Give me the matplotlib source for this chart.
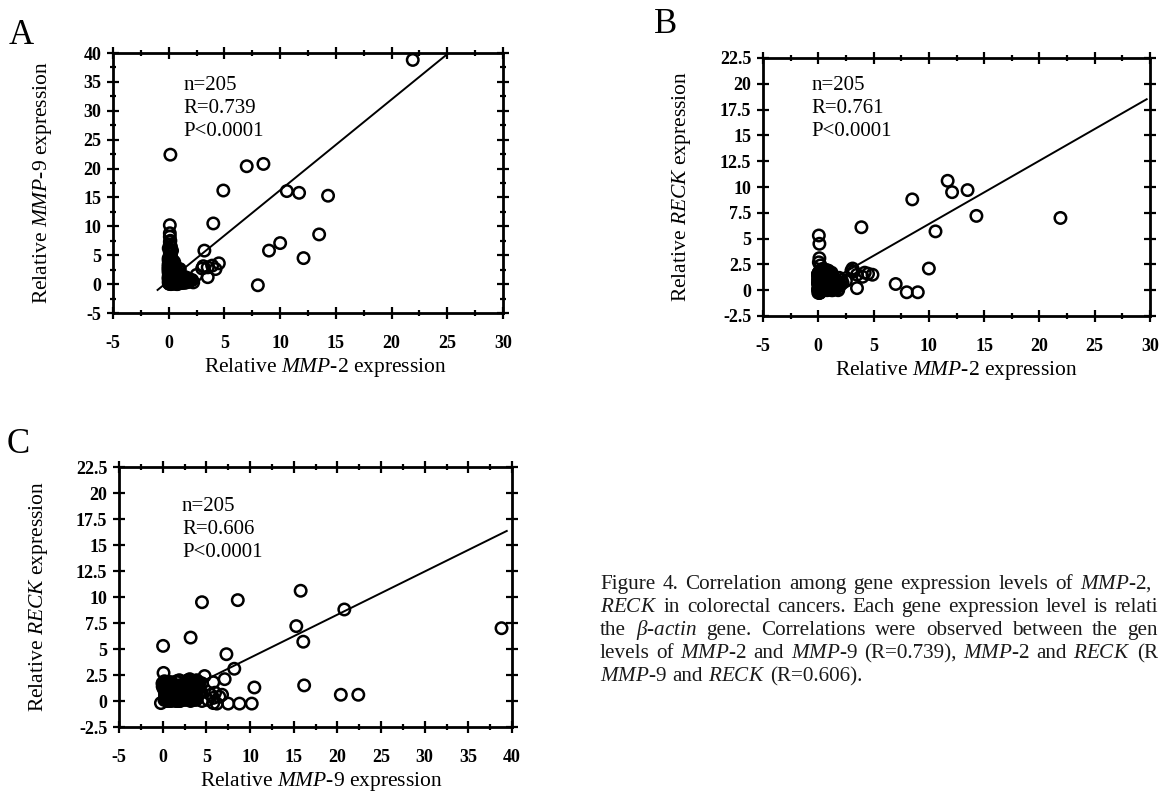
import numpy as np
import matplotlib
matplotlib.use("Agg")
import matplotlib.pyplot as plt
from matplotlib.ticker import MultipleLocator

plt.rcParams['font.family'] = ['Liberation Serif', 'DejaVu Serif']
plt.rcParams['mathtext.fontset'] = 'custom'
plt.rcParams['mathtext.rm'] = 'Liberation Serif'
plt.rcParams['mathtext.it'] = 'Liberation Serif:italic'
plt.rcParams['mathtext.bf'] = 'Liberation Serif:bold'
plt.rcParams['axes.unicode_minus'] = False

# samples that stand apart from the main cluster
mmp2_out = [21.9, 0.15, 7.0, 8.5, 4.9, 10.6, 11.7, 14.3, 4.0, 13.5,
            10.0, 9.0, 12.1, 8.0, 3.2, 3.9, 0.1, 0.05, 0.1, 0.05,
            0.1, 0.1, 0.15, 4.5, 3.0, 3.5, 3.1, 0.2, 0.1, 0.2,
            0.0, 0.1, 0.3, 0.1, 0.2, 2.1, 3.5, 4.2, 2.5]
mmp9_out = [38.8, 22.4, 20.4, 20.8, 16.2, 16.1, 15.8, 15.3, 10.5, 8.6,
            7.1, 5.8, 4.5, -0.2, 5.8, 3.2, 7.3, 0.05, 8.2, 0.1,
            10.2, 8.8, 7.5, 3.6, 2.7, 1.2, 3.1, 4.8, 6.8, 6.5,
            6.2, 6.0, 5.8, 5.5, 5.2, 0.7, 2.9, 2.6, 1.6]
reck_out = [7.0, 0.6, 0.6, 8.8, 1.5, 5.7, 10.6, 7.2, 1.3, 9.7,
            2.1, -0.2, 9.5, -0.2, 1.8, 6.1, 4.5, 5.3, 3.1, 2.7,
            -0.25, -0.25, -0.25, 1.6, 1.9, 0.2, 2.1, 2.4, 0.6, 0.4,
            -0.25, 0.8, 0.3, 0.6, 0.1, 1.0, 1.5, 1.7, 0.9]

# dense cluster near the origin
mmp2_blob = [0.0, 0.1, 0.2, 0.3, 0.1, 0.4, 0.5, 0.0, 0.2, 0.6,
             0.7, 0.3, 0.1, 0.8, 0.2, 0.9, 0.4, 0.0, 1.0, 0.5,
             0.1, 1.1, 0.3, 0.6, 0.2, 1.2, 0.0, 0.7, 0.4, 1.3,
             0.1, 0.5, 0.8, 0.2, 1.4, 0.3, 0.0, 0.9, 0.6, 1.5,
             0.2, 0.1, 1.0, 0.4, 1.6, 0.0, 0.7, 0.3, 1.1, 1.8,
             0.5, 0.2, 0.1, 1.2, 0.8, 2.0, 0.0, 0.6, 0.3, 0.9,
             1.3, 0.4, 0.2, 0.1, 1.7, 0.5, 0.0, 1.0, 0.7, 2.2,
             0.3, 0.6, 0.1, 0.8, 0.2, 1.4, 0.4, 0.0, 1.1, 0.5,
             0.9, 0.2, 1.9, 0.1, 0.6, 0.3, 1.2, 0.0, 0.4, 0.7,
             0.1, 1.5, 0.3, 0.2, 0.8, 0.0, 1.0, 0.5, 1.6, 0.2,
             0.4, 0.1, 0.6, 1.3, 0.0, 0.9, 0.3, 0.2, 0.7, 1.8,
             0.2, 0.5, 0.0, 0.8, 0.3, 1.1, 0.1, 0.6, 0.4, 1.4,
             0.0, 0.3, 0.9, 0.2, 0.7, 0.1, 1.2, 0.5, 0.0, 1.6,
             0.4, 0.1, 0.7, 0.3, 1.0, 0.2, 0.6, 0.0, 1.3, 0.8,
             0.1, 0.9, 0.2, 0.5, 0.0, 1.7, 0.3, 0.4, 1.1, 0.6,
             0.3, 0.0, 1.5, 0.2, 0.8, 0.1, 0.5, 1.9, 0.4, 0.7,
             0.0, 0.2, 0.5, 0.1, 0.3, 0.6]
mmp9_blob = [0.2, 1.5, 3.8, 0.6, 2.4, 0.1, 1.1, 4.3, 0.8, 2.9,
             0.4, 1.8, 3.2, 0.0, 2.1, 1.3, 4.0, 0.5, 2.6, 0.9,
             3.5, 0.3, 1.6, 2.2, 0.7, 1.0, 2.8, 0.1, 3.9, 0.6,
             1.2, 2.5, 0.4, 3.3, 0.9, 1.9, 4.5, 0.2, 1.4, 0.3,
             2.7, 3.6, 0.5, 1.7, 0.8, 3.0, 0.0, 2.3, 1.1, 0.4,
             0.9, 4.1, 2.0, 0.3, 1.5, 0.7, 3.4, 1.2, 0.1, 2.6,
             0.6, 2.0, 3.1, 1.4, 1.0, 0.2, 2.5, 1.8, 0.5, 0.3,
             4.2, 0.8, 2.9, 1.0, 3.7, 0.5, 1.3, 2.0, 0.2, 3.3,
             1.6, 0.0, 0.7, 3.4, 2.2, 1.1, 0.6, 3.0, 1.9, 0.4,
             2.3, 1.2, 0.9, 4.4, 1.5, 2.1, 0.3, 2.8, 0.8, 1.0,
             3.6, 0.5, 1.7, 0.2, 1.4, 2.4, 0.1, 3.9, 1.1, 0.6,
             3.0, 1.4, 4.0, 0.6, 2.2, 0.4, 3.6, 1.9, 2.7, 0.8,
             1.1, 3.3, 0.2, 4.3, 1.7, 2.5, 0.5, 3.8, 0.9, 0.3,
             2.0, 4.1, 1.3, 2.9, 0.7, 3.5, 1.0, 2.4, 0.6, 1.6,
             3.2, 0.4, 4.5, 1.8, 2.6, 0.9, 3.9, 1.2, 0.5, 2.1,
             0.8, 3.4, 0.3, 2.8, 1.5, 4.2, 2.3, 0.6, 3.7, 1.1,
             1.0, 2.4, 0.2, 3.1, 1.7, 0.9]
reck_blob = [0.1, 0.5, 1.2, 0.0, 0.8, 1.6, 0.3, 0.9, 1.4, 0.2,
             0.6, 1.0, 0.0, 1.7, 0.4, 0.2, 1.3, 0.7, 0.1, 1.5,
             0.9, 0.3, 1.1, 0.5, 1.8, 0.0, 0.6, 1.4, 0.2, 1.0,
             0.4, 1.6, 0.1, 0.8, 1.2, 0.5, 0.0, 1.3, 0.7, 0.3,
             1.1, 0.2, 1.5, 0.0, 0.9, 0.6, 1.7, 0.4, 1.0, 0.1,
             0.7, 1.3, 0.3, 1.0, 0.1, 0.5, 1.4, 0.2, 1.2, 0.8,
             0.0, 0.9, 1.6, 0.4, 0.6, 1.1, 0.2, 1.5, 0.3, 0.7,
             1.2, 0.1, 0.5, 1.8, 0.3, 0.8, 1.0, 0.0, 1.4, 0.6,
             0.2, 1.4, 0.7, 0.1, 1.3, 0.4, 0.9, 1.6, 0.0, 1.1,
             0.5, 0.3, 1.2, 0.8, 0.0, 1.5, 0.6, 1.0, 0.2, 1.7,
             1.0, 0.6, 0.1, 1.3, 0.7, 0.2, 1.6, 0.4, 0.9, 0.0,
             1.9, 0.7, 1.2, 1.8, 0.3, 1.5, 0.9, 2.0, 0.5, 1.1,
             1.6, 0.2, 1.9, 0.8, 1.3, 0.6, 1.7, 0.1, 1.4, 0.9,
             0.4, 1.8, 1.0, 2.0, 0.6, 1.2, 0.3, 1.6, 0.8, 1.9,
             1.1, 0.5, 1.7, 0.2, 1.5, 0.9, 2.0, 0.7, 1.3, 0.4,
             1.8, 1.0, 0.6, 1.4, 0.1, 1.7, 0.8, 1.2, 1.9, 0.5,
             1.0, 0.6, 1.3, 0.4, 1.8, 0.2]

mmp2 = np.array(mmp2_out + mmp2_blob)
mmp9 = np.array(mmp9_out + mmp9_blob)
reck = np.array(reck_out + reck_blob)

# regression lines as drawn in the figure: slope, intercept, x start, x end
fit_a = [1.57, 0.56, -1.0, 30.0]
fit_b = [0.614, 0.27, 0.0, 29.7]
fit_c = [0.415, 0.0, 0.0, 39.4]

stats_a = "n=205\nR=0.739\nP<0.0001"
stats_b = "n=205\nR=0.761\nP<0.0001"
stats_c = "n=205\nR=0.606\nP<0.0001"

ticks_x_mmp2 = [-5, 0, 5, 10, 15, 20, 25, 30]
ticks_x_mmp9 = [-5, 0, 5, 10, 15, 20, 25, 30, 35, 40]
ticks_y_mmp9 = [-5, 0, 5, 10, 15, 20, 25, 30, 35, 40]
ticks_y_reck = [-2.5, 0, 2.5, 5, 7.5, 10, 12.5, 15, 17.5, 20, 22.5]

W, H = 1160, 794
fig = plt.figure(figsize=(W / 100, H / 100), dpi=100)


def box(l, t, r, b):
    return [l / W, 1 - b / H, (r - l) / W, (b - t) / H]


def panel(rect, x, y, fit, xticks, yticks, xlab, ylab, stats, stats_pos,
          xlab_x, ylab_x):
    ax = fig.add_axes(rect)
    ax.scatter(x, y, s=68, facecolors='none', edgecolors='black',
               linewidths=1.8, zorder=3, clip_on=False)
    xs = np.array([fit[2], fit[3]])
    ax.plot(xs, fit[0] * xs + fit[1], color='black', lw=1.4, zorder=2)
    ax.set_xlim(xticks[0], xticks[-1])
    ax.set_ylim(yticks[0], yticks[-1])
    ax.set_xticks(xticks)
    ax.set_xticklabels([f"{v:g}" for v in xticks], fontweight='bold', fontsize=13)
    ax.set_yticks(yticks)
    ax.set_yticklabels([f"{v:g}" for v in yticks], fontweight='bold', fontsize=13)
    ax.xaxis.set_minor_locator(MultipleLocator(2.5))
    ax.yaxis.set_minor_locator(MultipleLocator(2.5))
    ax.tick_params(which='both', direction='inout', top=True, right=True,
                   width=1.6)
    ax.tick_params(which='major', length=9)
    ax.tick_params(which='minor', length=5)
    ax.tick_params(axis='x', pad=11)
    ax.tick_params(axis='y', pad=4)
    for s in ax.spines.values():
        s.set_linewidth(2.0)
    ax.set_xlabel(xlab, fontsize=15.5)
    ax.set_ylabel(ylab, fontsize=15.5)
    ax.xaxis.set_label_coords(xlab_x, -0.165)
    ax.yaxis.set_label_coords(ylab_x, 0.5)
    ax.text(stats_pos[0], stats_pos[1], stats, transform=ax.transAxes,
            fontsize=15, va='top', ha='left', linespacing=1.28)
    return ax


panel(box(113, 53, 503, 313), mmp2, mmp9, fit_a, ticks_x_mmp2, ticks_y_mmp9,
      r"Relative $\mathit{MMP}$-$\mathit{2}$ expression",
      r"Relative $\mathit{MMP}$-$\mathit{9}$ expression",
      stats_a, (0.18, 0.912), 0.545, -0.15)
panel(box(763, 58, 1150, 316), mmp2, reck, fit_b, ticks_x_mmp2, ticks_y_reck,
      r"Relative $\mathit{MMP}$-$\mathit{2}$ expression",
      r"Relative $\mathit{RECK}$ expression",
      stats_b, (0.125, 0.93), 0.5, -0.18)
panel(box(119, 467, 512, 727), mmp9, reck, fit_c, ticks_x_mmp9, ticks_y_reck,
      r"Relative $\mathit{MMP}$-$\mathit{9}$ expression",
      r"Relative $\mathit{RECK}$ expression",
      stats_c, (0.16, 0.885), 0.515, -0.175)

fig.text(9 / W, 1 - 44 / H, "A", fontsize=25, va='baseline', ha='left')
fig.text(654 / W, 1 - 33 / H, "B", fontsize=25, va='baseline', ha='left')
fig.text(7 / W, 1 - 453 / H, "C", fontsize=25, va='baseline', ha='left')

# caption as far as it shows before the right edge of the page scan
M2 = r"$\mathit{MMP}$-$\mathit{2}$"
M9 = r"$\mathit{MMP}$-$\mathit{9}$"
RK = r"$\mathit{RECK}$"
caption_words = [
    ["Figure", "4.", "Correlation", "among", "gene", "expression", "levels",
     "of", M2 + ","],
    [RK, "in", "colorectal", "cancers.", "Each", "gene", "expression",
     "level", "is", "relati"],
    ["the", r"$\mathit{\beta}$-$\mathit{actin}$", "gene.", "Correlations",
     "were", "observed", "between", "the", "gen"],
    ["levels", "of", M2, "and", M9, "(R=0.739),", M2, "and", RK, "(R"],
    [M9, "and", RK, "(R=0.606)."],
]
caption_end = [1152, 1158, 1158, 1158, None]   # None = last line, not justified
caption_y = [589, 612, 635, 658, 681]
cap_size = 15.2
x0 = 600
renderer = fig.canvas.get_renderer()
space = 0.25 * cap_size * 100 / 72
for words, xend, yy in zip(caption_words, caption_end, caption_y):
    texts = [fig.text(0, 1 - yy / H, w, fontsize=cap_size, va='baseline',
                      ha='left', color='#1a1a1a') for w in words]
    widths = [t.get_window_extent(renderer).width for t in texts]
    gap = space
    if xend is not None:
        gap = (xend - x0 - sum(widths)) / (len(words) - 1)
        gap = min(max(gap, 0.7 * space), 2.5 * space)
    xx = x0
    for t, w in zip(texts, widths):
        t.set_x(xx / W)
        xx += w + gap

fig.savefig("out.png", dpi=100)
